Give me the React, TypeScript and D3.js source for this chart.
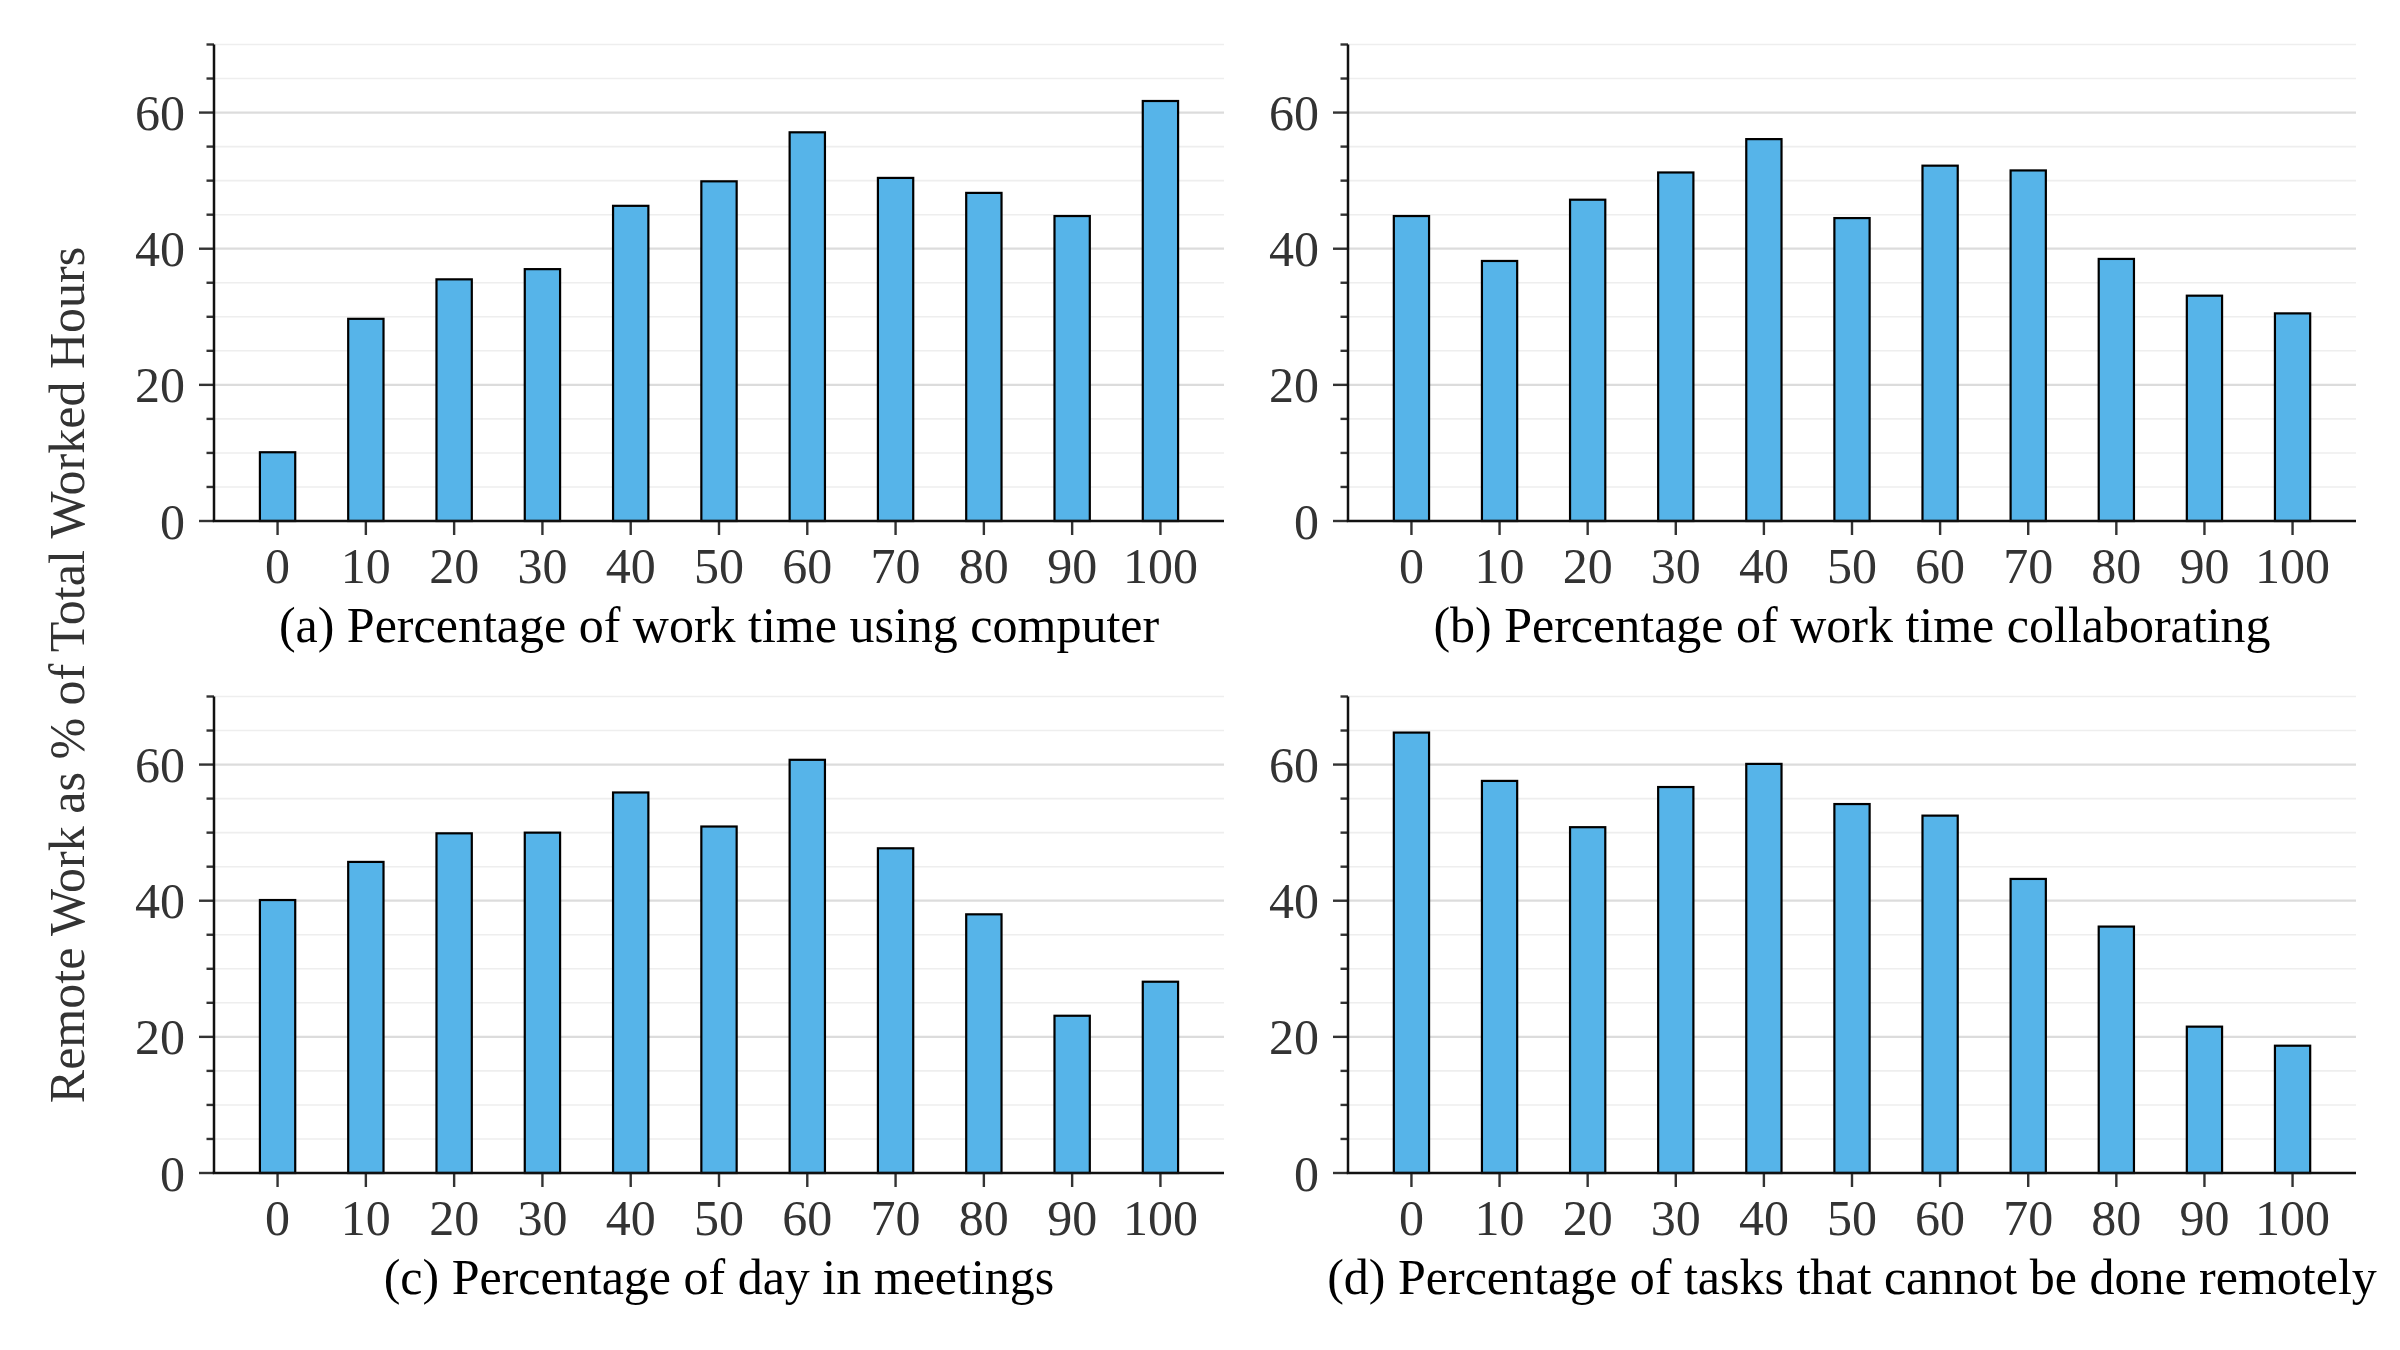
import React from "react";
import * as d3 from "d3";

const categories = [0, 10, 20, 30, 40, 50, 60, 70, 80, 90, 100];
const computerUse = [10.1, 29.7, 35.5, 37.0, 46.3, 49.9, 57.1, 50.4, 48.2, 44.8, 61.7];
const collaborating = [44.8, 38.2, 47.2, 51.2, 56.1, 44.5, 52.2, 51.5, 38.5, 33.1, 30.5];
const meetings = [40.1, 45.7, 49.9, 50.0, 55.9, 50.9, 60.7, 47.7, 38.0, 23.1, 28.1];
const cannotRemote = [64.7, 57.6, 50.8, 56.7, 60.1, 54.2, 52.5, 43.2, 36.2, 21.5, 18.7];

const yMajorTicks = [0, 20, 40, 60];
const yMinorTicks = [5, 10, 15, 25, 30, 35, 45, 50, 55, 65, 70];

const panelTitles = [
  "(a) Percentage of work time using computer",
  "(b) Percentage of work time collaborating",
  "(c) Percentage of day in meetings",
  "(d) Percentage of tasks that cannot be done remotely",
];
const yAxisLabel = "Remote Work as % of Total Worked Hours";

const panelValues = [computerUse, collaborating, meetings, cannotRemote];

const W = 2400;
const H = 1350;
const FONT = "'Liberation Serif', 'Times New Roman', Times, serif";
const BAR_FILL = "#56B4E9";
const TEXT_GRAY = "#333333";
const FS = 50;

type PanelProps = {
  values: number[];
  title: string;
  x0: number;
  x1: number;
  yTop: number;
  yBottom: number;
};

function Panel({ values, title, x0, x1, yTop, yBottom }: PanelProps) {
  const x = d3.scaleLinear().domain([-7.2, 107.2]).range([x0, x1]);
  const y = d3.scaleLinear().domain([0, 70]).range([yBottom, yTop]);
  const barW = x(4) - x(0);
  return (
    <g>
      {yMinorTicks.map((t) => (
        <line key={"mg" + t} x1={x0} x2={x1} y1={y(t)} y2={y(t)} stroke="#eeeeee" strokeWidth={1.6} />
      ))}
      {yMajorTicks.map((t) => (
        <line key={"Mg" + t} x1={x0} x2={x1} y1={y(t)} y2={y(t)} stroke="#dcdcdc" strokeWidth={2.2} />
      ))}
      {values.map((v, i) => (
        <rect
          key={"b" + i}
          x={x(categories[i]) - barW / 2}
          y={y(v)}
          width={barW}
          height={y(0) - y(v)}
          fill={BAR_FILL}
          stroke="#000"
          strokeWidth={2.2}
        />
      ))}
      {yMinorTicks.map((t) => (
        <line key={"mt" + t} x1={x0 - 7.5} x2={x0} y1={y(t)} y2={y(t)} stroke={TEXT_GRAY} strokeWidth={2.4} />
      ))}
      {yMajorTicks.map((t) => (
        <g key={"Mt" + t}>
          <line x1={x0 - 15} x2={x0} y1={y(t)} y2={y(t)} stroke={TEXT_GRAY} strokeWidth={2.4} />
          <text
            x={x0 - 29}
            y={y(t) + 17.5}
            textAnchor="end"
            fontFamily={FONT}
            fontSize={FS}
            fill={TEXT_GRAY}
          >
            {t}
          </text>
        </g>
      ))}
      {categories.map((c) => (
        <g key={"xt" + c}>
          <line x1={x(c)} x2={x(c)} y1={yBottom} y2={yBottom + 14} stroke={TEXT_GRAY} strokeWidth={2.4} />
          <text
            x={x(c)}
            y={yBottom + 62}
            textAnchor="middle"
            fontFamily={FONT}
            fontSize={FS}
            fill={TEXT_GRAY}
          >
            {c}
          </text>
        </g>
      ))}
      <line x1={x0} x2={x0} y1={yTop} y2={yBottom} stroke="#111" strokeWidth={2.5} />
      <line x1={x0 - 1.25} x2={x1} y1={yBottom} y2={yBottom} stroke="#111" strokeWidth={2.5} />
      <text
        x={(x0 + x1) / 2}
        y={yBottom + 121}
        textAnchor="middle"
        fontFamily={FONT}
        fontSize={FS}
        fill="#000"
      >
        {title}
      </text>
    </g>
  );
}

export default function App() {
  const cols = [
    [214, 1224],
    [1348, 2356],
  ];
  const rows = [
    [44.5, 521],
    [696.5, 1173],
  ];
  return (
    <div style={{ position: "absolute", left: 0, top: 0, width: W, height: H, background: "#fff" }}>
      <svg width={W} height={H} viewBox={`0 0 ${W} ${H}`} style={{ display: "block" }}>
        <rect x={0} y={0} width={W} height={H} fill="#fff" />
        {panelValues.map((vals, i) => {
          const c = cols[i % 2];
          const r = rows[Math.floor(i / 2)];
          return (
            <Panel
              key={i}
              values={vals}
              title={panelTitles[i]}
              x0={c[0]}
              x1={c[1]}
              yTop={r[0]}
              yBottom={r[1]}
            />
          );
        })}
        <text
          transform={`translate(84, 675) rotate(-90)`}
          textAnchor="middle"
          fontFamily={FONT}
          fontSize={FS}
          fill={TEXT_GRAY}
        >
          {yAxisLabel}
        </text>
      </svg>
    </div>
  );
}
